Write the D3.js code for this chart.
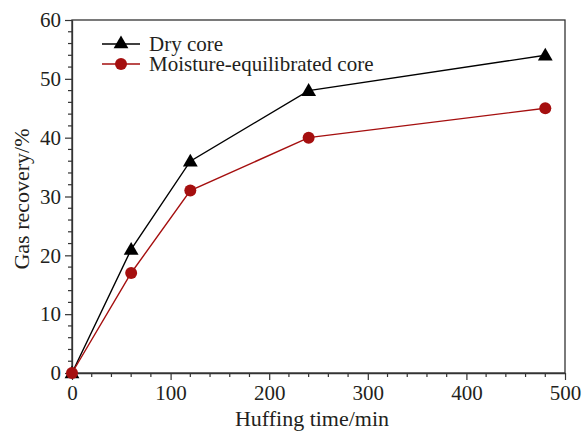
<!DOCTYPE html>
<html>
<head>
<meta charset="utf-8">
<script src="https://cdn.jsdelivr.net/npm/d3@7"></script>
<style>
  html, body { margin: 0; padding: 0; background: #fff; }
  svg { display: block; }
  svg text { font-family: "Liberation Serif", "Times New Roman", serif; }
</style>
</head>
<body>
<svg id="chart" width="582" height="431"></svg>
<script>
// Huffing time (min) and gas recovery (%) for the two core conditions
const times = [0, 60, 120, 240, 480];
const dryCore = [0, 21, 36, 48, 54];
const moistCore = [0, 17, 31, 40, 45];
const seriesNames = ["Dry core", "Moisture-equilibrated core"];
const xTicks = [0, 100, 200, 300, 400, 500];
const yTicks = [0, 10, 20, 30, 40, 50, 60];

const SERIF = "Liberation Serif";
const svg = d3.select("#chart");
const margin = { left: 72, right: 17, top: 20, bottom: 58 };
const W = 582, H = 431;

const x = d3.scaleLinear().domain([0, 500]).range([margin.left, W - margin.right]);
const y = d3.scaleLinear().domain([0, 60]).range([H - margin.bottom, margin.top]);

// Frame
svg.append("rect")
  .attr("x", x(0)).attr("y", y(60))
  .attr("width", x(500) - x(0)).attr("height", y(0) - y(60))
  .attr("fill", "none").attr("stroke", "#333").attr("stroke-width", 1.3);

// Minor ticks
const xMinor = d3.range(0, 501, 20).filter(v => v % 100 !== 0);
const yMinor = d3.range(0, 61, 2).filter(v => v % 10 !== 0);
svg.append("g").selectAll("line").data(xMinor).join("line")
  .attr("x1", d => x(d)).attr("x2", d => x(d))
  .attr("y1", y(0)).attr("y2", y(0) + 4)
  .attr("stroke", "#333").attr("stroke-width", 1.2);
svg.append("g").selectAll("line").data(yMinor).join("line")
  .attr("y1", d => y(d)).attr("y2", d => y(d))
  .attr("x1", x(0)).attr("x2", x(0) - 4)
  .attr("stroke", "#333").attr("stroke-width", 1.2);

// Major axes
const xAxis = svg.append("g")
  .attr("transform", `translate(0,${y(0)})`)
  .call(d3.axisBottom(x).tickValues(xTicks).tickSize(7).tickPadding(5).tickSizeOuter(0));
const yAxis = svg.append("g")
  .attr("transform", `translate(${x(0)},0)`)
  .call(d3.axisLeft(y).tickValues(yTicks).tickSize(7).tickPadding(4).tickSizeOuter(0));
[xAxis, yAxis].forEach(g => {
  g.attr("font-family", SERIF).attr("font-size", 21);
  g.select(".domain").attr("stroke", "#333").attr("stroke-width", 1.3);
  g.selectAll(".tick line").attr("stroke", "#333").attr("stroke-width", 1.2);
  g.selectAll(".tick text").attr("fill", "#231f20");
});

// Axis titles
svg.append("text")
  .attr("x", 312).attr("y", 426)
  .attr("text-anchor", "middle").attr("fill", "#231f20")
  .attr("font-family", SERIF).attr("font-size", 22)
  .text("Huffing time/min");
svg.append("text")
  .attr("transform", `translate(29,199) rotate(-90)`)
  .attr("text-anchor", "middle").attr("fill", "#231f20")
  .attr("font-family", SERIF).attr("font-size", 22)
  .text("Gas recovery/%");

const line = d3.line().x(d => x(d[0])).y(d => y(d[1]));
const tri = d3.symbol().type(d3.symbolTriangle).size(95);

const series = [
  { name: seriesNames[0], values: dryCore, color: "#000000", marker: "tri" },
  { name: seriesNames[1], values: moistCore, color: "#a50f0f", marker: "circle" }
];

series.forEach(s => {
  const pts = times.map((t, i) => [t, s.values[i]]);
  svg.append("path").datum(pts)
    .attr("d", line).attr("fill", "none")
    .attr("stroke", s.color).attr("stroke-width", 1.4);
  const g = svg.append("g");
  if (s.marker === "tri") {
    g.selectAll("path").data(pts).join("path")
      .attr("d", tri)
      .attr("transform", d => `translate(${x(d[0])},${y(d[1]) + 1})`)
      .attr("fill", s.color);
  } else {
    g.selectAll("circle").data(pts).join("circle")
      .attr("cx", d => x(d[0])).attr("cy", d => y(d[1]))
      .attr("r", 6).attr("fill", s.color);
  }
});

// Legend
const legend = svg.append("g");
series.forEach((s, i) => {
  const ly = 44 + i * 20;
  legend.append("line")
    .attr("x1", 102).attr("x2", 140).attr("y1", ly).attr("y2", ly)
    .attr("stroke", s.color).attr("stroke-width", 1.4);
  if (s.marker === "tri") {
    legend.append("path").attr("d", tri)
      .attr("transform", `translate(121,${ly})`).attr("fill", s.color);
  } else {
    legend.append("circle").attr("cx", 121).attr("cy", ly).attr("r", 6).attr("fill", s.color);
  }
  legend.append("text")
    .attr("x", 149).attr("y", ly + 7)
    .attr("fill", "#231f20")
    .attr("font-family", SERIF).attr("font-size", 21)
    .text(s.name);
});
</script>
</body>
</html>
